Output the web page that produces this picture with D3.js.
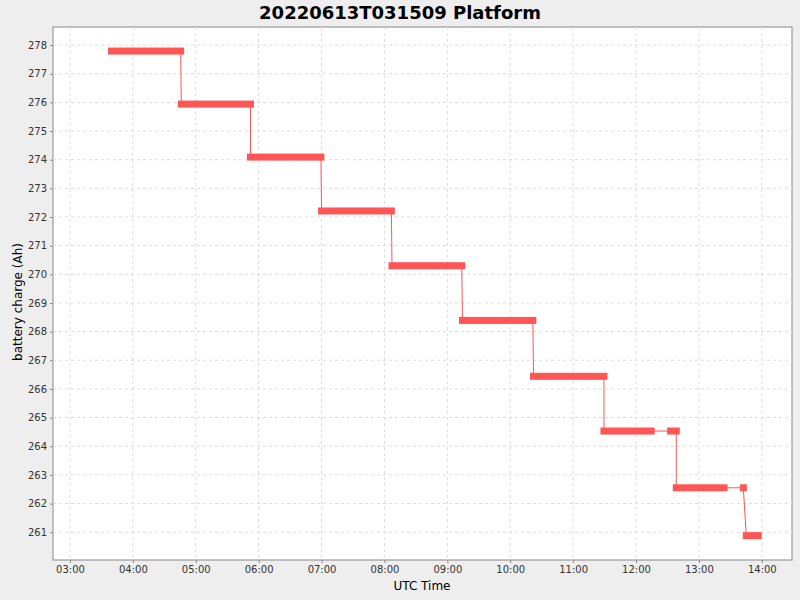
<!DOCTYPE html>
<html><head><meta charset="utf-8">
<script src="https://cdn.jsdelivr.net/npm/d3@7"></script>
<style>body{margin:0;background:#eeeeee}</style></head>
<body><svg id="c" width="800" height="600"></svg>
<script>
const segStart=[3.66,4.77,5.87,7.00,8.12,9.24,10.37,11.49,12.55,12.64,13.706,13.753];
const segEnd  =[4.76,5.87,6.99,8.11,9.23,10.36,11.49,12.24,12.64,13.40,13.706,13.944];
const segValue=[277.79,275.94,274.09,272.21,270.30,268.39,266.44,264.53,264.53,262.55,262.55,260.88];
const yTicks=[261,262,263,264,265,266,267,268,269,270,271,272,273,274,275,276,277,278];
const xTicks=[3,4,5,6,7,8,9,10,11,12,13,14];
const title="20220613T031509 Platform";

const svg=d3.select("#c");
const L=53,R=792,T=27,B=560;
const x=d3.scaleLinear().domain([2.73,14.48]).range([L,R]);
const y=d3.scaleLinear().domain([260.03,278.63]).range([B,T]);
svg.append("rect").attr("x",L).attr("y",T).attr("width",R-L).attr("height",B-T).attr("fill","#fff").attr("stroke","#888");
const g=svg.append("g");
xTicks.forEach(t=>g.append("line").attr("x1",x(t)).attr("x2",x(t)).attr("y1",T).attr("y2",B).attr("stroke","#ddd").attr("stroke-dasharray","3,3"));
yTicks.forEach(t=>g.append("line").attr("y1",y(t)).attr("y2",y(t)).attr("x1",L).attr("x2",R).attr("stroke","#ddd").attr("stroke-dasharray","3,3"));
const fmt=h=>String(h).padStart(2,"0")+":00";
const xa=svg.append("g").attr("transform",`translate(0,${B})`).call(d3.axisBottom(x).tickValues(xTicks).tickFormat(fmt).tickSize(3).tickSizeOuter(0));
const ya=svg.append("g").attr("transform",`translate(${L},0)`).call(d3.axisLeft(y).tickValues(yTicks).tickFormat(d3.format("d")).tickSize(3).tickSizeOuter(0));
[xa,ya].forEach(a=>{a.select(".domain").remove();a.selectAll("text").attr("font-family","DejaVu Sans").attr("font-size",10).attr("fill","#333");a.selectAll("line").attr("stroke","#888");});
const pts=[];
segStart.forEach((s,i)=>{pts.push([s,segValue[i]]);pts.push([segEnd[i],segValue[i]]);});
svg.append("path").attr("d",d3.line().x(d=>x(d[0])).y(d=>y(d[1]))(pts)).attr("fill","none").attr("stroke","#ff5555").attr("stroke-width",1);
segStart.forEach((s,i)=>{
  svg.append("rect").attr("x",x(s)-3.5).attr("width",x(segEnd[i])-x(s)+7).attr("y",y(segValue[i])-3.5).attr("height",7).attr("fill","#ff5555");
});
svg.append("text").attr("x",400).attr("y",19).attr("text-anchor","middle").attr("font-family","DejaVu Sans").attr("font-weight","bold").attr("font-size",18).text(title);
svg.append("text").attr("x",422).attr("y",590).attr("text-anchor","middle").attr("font-family","DejaVu Sans").attr("font-size",12).text("UTC Time");
svg.append("text").attr("transform","translate(22,302) rotate(-90)").attr("text-anchor","middle").attr("font-family","DejaVu Sans").attr("font-size",12).text("battery charge (Ah)");
</script></body></html>
